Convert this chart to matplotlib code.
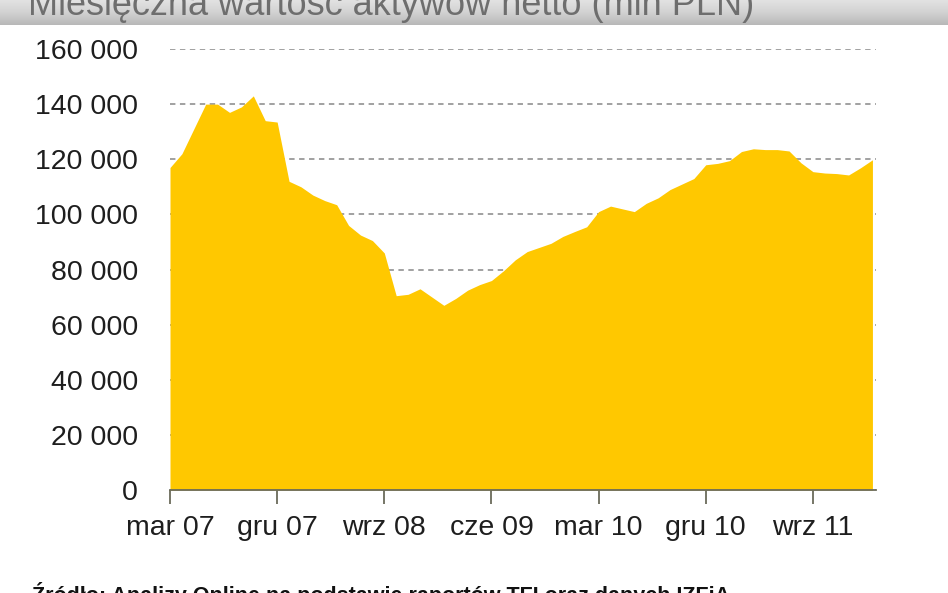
import numpy as np
import matplotlib
matplotlib.use('Agg')
import matplotlib.pyplot as plt

# monthly net asset value, mar 07 .. feb 12 (mln PLN)
values = [117000, 122000, 131000, 140000, 140000, 137000, 139000, 143000, 134000, 133500,
          112000, 110000, 107000, 105000, 103500, 96000, 92500, 90500, 86000, 70500,
          71000, 73000, 70000, 67000, 69500, 72500, 74500, 76000, 79500, 83500,
          86500, 88000, 89500, 92000, 93800, 95500, 101000, 103000, 102000, 101000,
          104000, 106000, 109000, 111000, 113000, 118000, 118500, 119500, 122800, 123800,
          123500, 123500, 123000, 118700, 115500, 115000, 114800, 114300, 116900, 119800]
tick_idx = [0, 9, 18, 27, 36, 45, 54]
tick_labels = ['mar 07', 'gru 07', 'wrz 08', 'cze 09', 'mar 10', 'gru 10', 'wrz 11']
y_ticks = [0, 20000, 40000, 60000, 80000, 100000, 120000, 140000, 160000]
y_labels = ['0', '20 000', '40 000', '60 000', '80 000', '100 000', '120 000', '140 000', '160 000']

title = 'Miesięczna wartość aktywów netto (mln PLN)'
source = 'Źródło: Analizy Online na podstawie raportów TFI oraz danych IZFiA'

W, H = 948, 593
fig = plt.figure(figsize=(W / 100, H / 100), dpi=100)
fig.patch.set_facecolor('white')

# title band (cut off at the top of the picture)
band = fig.add_axes([0, 1 - 25 / H, 1, 25 / H])
grad = np.linspace(0, 1, 50)[:, None] * np.ones((1, 2))
cmap = matplotlib.colors.LinearSegmentedColormap.from_list('g', ['#e2e2e2', '#d2d2d2', '#b8b8b8'])
band.imshow(grad, aspect='auto', cmap=cmap, extent=[0, 1, 0, 1], origin='upper')
band.set_axis_off()
fig.text(28 / W, 1 - 15 / H, title, fontsize=26, color='#6e6e6e', family='Liberation Sans',
         va='baseline', ha='left')

ax = fig.add_axes([170 / W, 1 - 490 / H, (876 - 170) / W, (490 - 49) / H])
x = np.arange(len(values))
ax.fill_between(x, 0, values, color='#FFC800', linewidth=0)
ax.set_xlim(0, 59.3)
ax.set_ylim(0, 160000)

ax.set_yticks(y_ticks)
ax.set_yticklabels(y_labels)
ax.set_xticks(tick_idx)
ax.set_xticklabels(tick_labels)
for lab in ax.get_xticklabels() + ax.get_yticklabels():
    lab.set_family('Liberation Sans')
    lab.set_fontsize(20.5)
    lab.set_color('#1e1e1e')

ax.tick_params(axis='y', length=0, pad=23)
ax.tick_params(axis='x', length=10, width=1.3, color='#6b6b5a', pad=8, direction='out')
ax.yaxis.grid(True, color='#9a9a9a', linestyle=(0, (3, 2.5)), linewidth=1.3)
ax.set_axisbelow(True)
for s in ['top', 'right', 'left']:
    ax.spines[s].set_visible(False)
ax.spines['bottom'].set_color('#6b6b5a')
ax.spines['bottom'].set_linewidth(1.3)

fig.text(32 / W, 1 - 582 / H, source, fontsize=15.5, fontweight='bold', color='#111111',
         family='Liberation Sans', va='top', ha='left')

fig.savefig('out.png', dpi=100)
